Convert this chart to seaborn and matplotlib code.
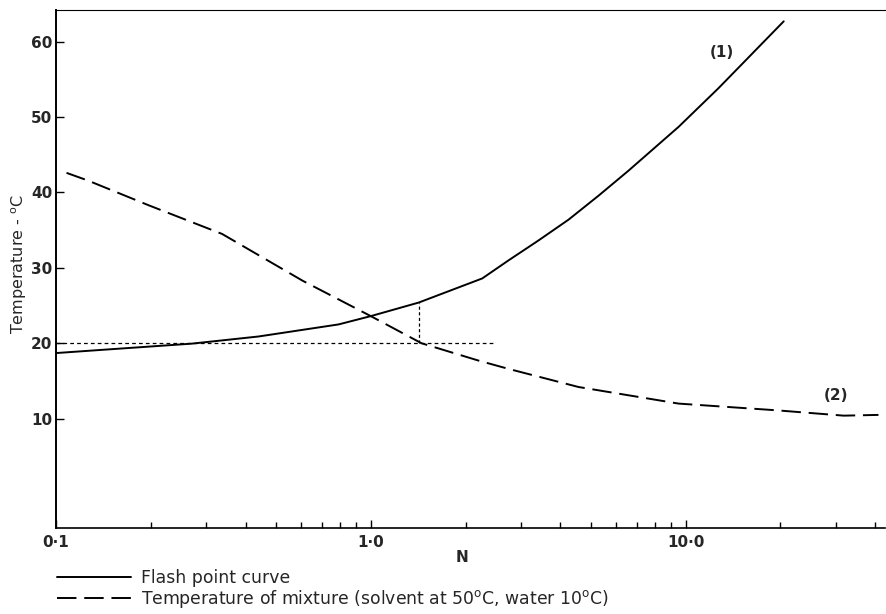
import matplotlib
matplotlib.use("Agg")
import matplotlib.pyplot as plt
import numpy as np
import pandas as pd
import seaborn as sns
from matplotlib.ticker import FixedLocator, FixedFormatter, LogLocator, NullFormatter

# ---- data ----
flash_n = [0.1, 0.137, 0.27, 0.44, 0.79, 1.0, 1.42, 2.26, 2.74, 3.4, 4.25, 5.3, 6.59, 9.5, 12.7, 15.5, 20.5]
flash_t = [18.7, 19.1, 19.95, 20.9, 22.5, 23.6, 25.4, 28.6, 31.0, 33.6, 36.4, 39.6, 42.9, 48.7, 53.8, 57.5, 62.7]

mix_n = [0.108, 0.126, 0.197, 0.337, 0.607, 1.0, 1.45, 2.2, 2.74, 4.57, 9.5, 19.6, 31.8, 41.0]
mix_t = [42.6, 41.6, 38.3, 34.5, 28.3, 23.6, 20.0, 17.7, 16.6, 14.2, 12.0, 11.1, 10.4, 10.5]

ref_temp = 20.0          # horizontal dotted reference
ref_n_start = 0.1
ref_n_end = 2.46
marker_n = 1.42          # vertical dotted marker
marker_t_top = 25.4

x_ticks = [0.1, 1.0, 10.0]
x_tick_labels = ["0·1", "1·0", "10·0"]
y_ticks = [10, 20, 30, 40, 50, 60]
y_tick_labels = ["10", "20", "30", "40", "50", "60"]

curve_labels = ["(1)", "(2)"]
curve_label_n = [13.0, 30.0]
curve_label_t = [58.6, 13.1]

legend_labels = ["Flash point curve",
                 "Temperature of mixture (solvent at 50$^{\\rm o}$C, water 10$^{\\rm o}$C)"]

# ---- style ----
sns.set_style("ticks")
plt.rcParams["font.family"] = ["DejaVu Sans"]
plt.rcParams["mathtext.fontset"] = "dejavusans"

W, H = 886, 614
fig = plt.figure(figsize=(W / 100, H / 100), dpi=100)
left, right, top, bottom = 56, 885, 10, 528
ax = fig.add_axes([left / W, 1 - bottom / H, (right - left) / W, (bottom - top) / H])

df_flash = pd.DataFrame({"N": flash_n, "T": flash_t})
df_mix = pd.DataFrame({"N": mix_n, "T": mix_t})

sns.lineplot(data=df_flash, x="N", y="T", ax=ax, color="black", lw=1.4,
             label=legend_labels[0], sort=False)
sns.lineplot(data=df_mix, x="N", y="T", ax=ax, color="black", lw=1.4,
             linestyle=(0, (10, 4)), label=legend_labels[1], sort=False)

# dotted construction lines
ax.plot([ref_n_start, ref_n_end], [ref_temp, ref_temp], color="black", lw=0.9,
        linestyle=(0, (3, 2.5)))
ax.plot([marker_n, marker_n], [ref_temp, marker_t_top], color="black", lw=0.9,
        linestyle=(0, (2.5, 2)))

for lab, n, t in zip(curve_labels, curve_label_n, curve_label_t):
    ax.text(n, t, lab, ha="center", va="center", fontsize=11, fontweight="bold")

ax.set_xscale("log")
ax.set_xlim(0.1, 43)
ax.set_ylim(-4.5, 64.2)

ax.xaxis.set_major_locator(FixedLocator(x_ticks))
ax.xaxis.set_major_formatter(FixedFormatter(x_tick_labels))
ax.xaxis.set_minor_locator(LogLocator(base=10, subs=np.arange(2, 10)))
ax.xaxis.set_minor_formatter(NullFormatter())
ax.yaxis.set_major_locator(FixedLocator(y_ticks))
ax.yaxis.set_major_formatter(FixedFormatter(y_tick_labels))

ax.tick_params(axis="both", which="both", direction="in", width=1.0, color="black")
ax.tick_params(axis="both", which="major", length=6, labelsize=11)
ax.tick_params(axis="x", which="major", pad=5)
ax.tick_params(axis="y", which="major", pad=2.5)
ax.tick_params(axis="x", which="minor", length=4)
ax.tick_params(axis="y", which="both", right=False)
ax.tick_params(axis="x", which="both", top=False)
for lab in ax.get_xticklabels() + ax.get_yticklabels():
    lab.set_fontweight("bold")

sns.despine(ax=ax, top=False, right=True)
for s in ["left", "bottom", "top"]:
    ax.spines[s].set_color("black")
ax.spines["left"].set_linewidth(1.4)
ax.spines["bottom"].set_linewidth(1.2)
ax.spines["top"].set_linewidth(0.8)

ax.set_xlabel("N", fontsize=11, fontweight="bold")
ax.xaxis.label.set_va("center")
ax.xaxis.set_label_coords((462 - left) / (right - left), (bottom - 558) / (bottom - top))
ax.set_ylabel("Temperature - $^{\\rm o}$C", fontsize=11.5)
ax.yaxis.label.set_va("center")
ax.yaxis.set_label_coords((19 - left) / (right - left), 0.51)

leg = ax.legend(loc="upper left", bbox_to_anchor=(57 / W, 1 - 569 / H),
                bbox_transform=fig.transFigure, frameon=False, fontsize=12.4,
                handlelength=4.3, handletextpad=0.6, labelspacing=0.05,
                borderaxespad=0, borderpad=0)

fig.savefig("out.png", dpi=100, facecolor="white")
